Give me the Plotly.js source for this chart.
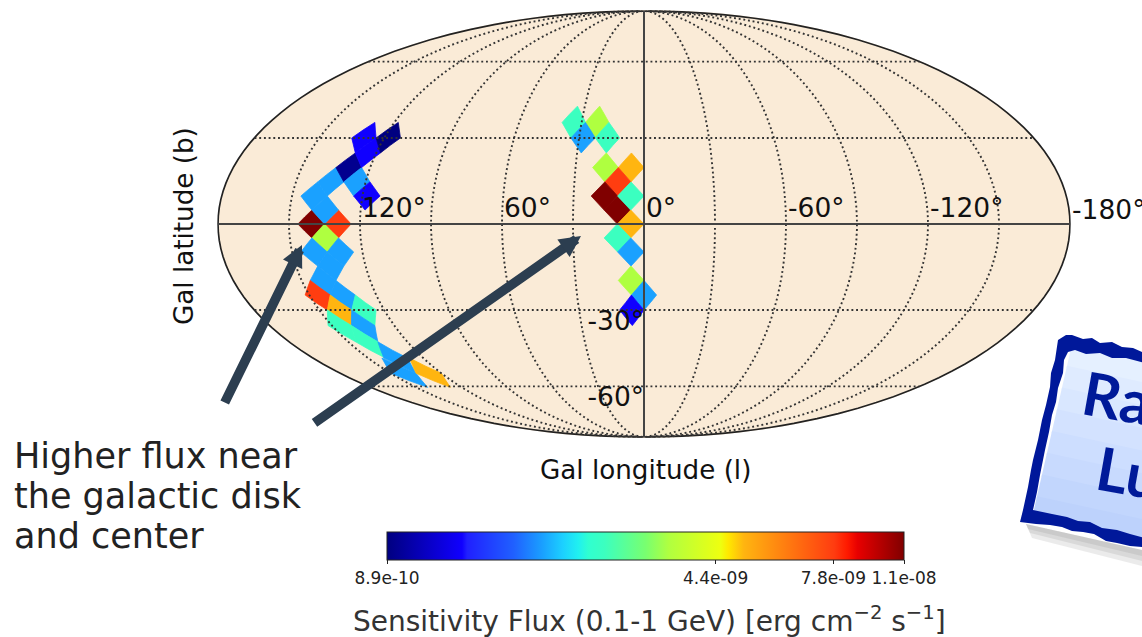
<!DOCTYPE html>
<html><head><meta charset="utf-8">
<script src="https://cdn.plot.ly/plotly-3.0.1.min.js"></script>
<style>html,body{margin:0;padding:0;background:#fff}#c{width:1142px;height:637px}</style></head>
<body><div id="c"></div>
<script>
// ---- data: HEALPix (nside 8) ring, galactic longitude, sensitivity flux ----
var cellRing=[9,9,10,10,12,12,13,14,15,14,16,17,18,20,21,22,
 16,16,17,18,18,19,20,21,21,22,22,23,23,24,25,26,26,14,15,13,12,13,14,11,10,10];
var cellLon=[33.75,22.5,28.125,16.875,16.875,5.625,11.25,16.875,11.25,5.625,5.625,11.25,5.625,5.625,0,5.625,
 140.625,129.375,135,140.625,129.375,135,140.625,135,146.25,140.625,129.375,135,146.25,140.625,135,142.5,127.5,
 140.625,135,135,129.375,123.75,118.125,123.75,129.375,118.125];
var cellFlux=[2.56e-9,3.5e-9,1.9e-9,2.56e-9,3.5e-9,5.05e-9,7.8e-9,1.1e-8,1.1e-8,2.56e-9,5.05e-9,2.56e-9,1.9e-9,3.5e-9,1.9e-9,1.28e-9,
 1.1e-8,7.8e-9,3.5e-9,1.9e-9,1.9e-9,1.9e-9,1.9e-9,1.9e-9,7.8e-9,5.05e-9,2.56e-9,1.9e-9,2.56e-9,2.56e-9,1.9e-9,1.9e-9,5.05e-9,
 1.9e-9,1.9e-9,1.9e-9,9.3e-10,1.9e-9,1.28e-9,1.28e-9,1.28e-9,8.9e-10];
var lonTickVals=[120,60,0,-60,-120];
var lonTickText=['120°','60°','0°','-60°','-120°'];
var latTickVals=[-30,-60];
var latTickText=['-30°','-60°'];
var graticuleLon=[-150,-120,-90,-60,-30,30,60,90,120,150];
var graticuleLat=[-60,-30,30,60];
var cbTickVals=[8.9e-10,4.4e-9,7.8e-9,1.1e-8];
var cbTickText=['8.9e-10','4.4e-09','7.8e-09','1.1e-08'];
var fluxMin=8.9e-10, fluxMax=1.1e-8;
var jet=[[0,'#000080'],[0.145,'#1000ff'],[0.155,'#2020ff'],[0.245,'#2060ff'],[0.30,'#1a9fff'],[0.34,'#1cd0ff'],[0.37,'#20f0f0'],[0.39,'#30ffd0'],[0.42,'#3bffc0'],[0.50,'#78ff70'],[0.545,'#b0ff40'],[0.645,'#eeff10'],[0.66,'#ffe800'],[0.69,'#ffb510'],[0.865,'#ff3c10'],[0.89,'#ff1a00'],[0.91,'#e80000'],[1,'#800000']];

// ---- helpers ----
var W=1142,H=637;
function px(x){return x/W;} function py(y){return 1-y/H;}
function ringZ(i){ if(i>24){var k=32-i;return -(1-k*k/192);} if(i<8){return 1-i*i/192;} return 4/3-i/12; }
function ringLat(i){return Math.asin(ringZ(i))*180/Math.PI;}
function halfLon(i){ return i>24?45/(32-i):5.625; }
function hex2(c){return [parseInt(c.substr(1,2),16),parseInt(c.substr(3,2),16),parseInt(c.substr(5,2),16)];}
function jetColor(v){
  var t=Math.max(0,Math.min(1,Math.log(v/fluxMin)/Math.log(fluxMax/fluxMin)));
  for(var i=1;i<jet.length;i++){ if(t<=jet[i][0]){
    var a=jet[i-1],b=jet[i],f=(t-a[0])/(b[0]-a[0]),p=hex2(a[1]),q=hex2(b[1]);
    return 'rgb('+[0,1,2].map(function(k){return Math.round(p[k]+(q[k]-p[k])*f);}).join(',')+')';
  }}
  return jet[jet.length-1][1];
}
function seq(a,b,s){var o=[];for(var v=a;v<b;v+=s)o.push(v);o.push(b);return o;}

var traces=[];
// cells (longitude increases to the left, so map l -> -l)
cellRing.forEach(function(r,i){
  var l=-cellLon[i],d=halfLon(r),c=ringLat(r);
  traces.push({type:'scattergeo',mode:'lines',hoverinfo:'skip',showlegend:false,
    lon:[l,l+d,l,l-d,l],lat:[ringLat(r-1),c,ringLat(r+1),c,ringLat(r-1)],
    fill:'toself',fillcolor:jetColor(cellFlux[i]),line:{width:0.8,color:jetColor(cellFlux[i])}});
});
// colour bar carrier
traces.push({type:'scattergeo',mode:'markers',hoverinfo:'skip',showlegend:false,
  lon:cellLon.map(function(v){return -v;}),lat:cellRing.map(ringLat),
  marker:{size:1,opacity:0,color:cellFlux.map(function(v){return Math.log10(v);}),
    cmin:Math.log10(fluxMin),cmax:Math.log10(fluxMax),colorscale:jet,showscale:true,
    colorbar:{orientation:'h',x:px(645.5),xanchor:'center',y:py(532),yanchor:'top',len:517/W,lenmode:'fraction',
      thickness:28,thicknessmode:'pixels',xpad:0,ypad:0,outlinecolor:'#222',outlinewidth:1,
      tickmode:'array',tickvals:cbTickVals.map(function(v){return Math.log10(v);}),ticktext:cbTickText,
      ticks:'outside',ticklen:4,tickcolor:'#222',tickwidth:1,tickfont:{family:'DejaVu Sans',size:17,color:'#222'}}}});
// graticule
graticuleLon.forEach(function(l){
  var la=seq(-89.9,89.9,4);
  traces.push({type:'scattergeo',mode:'lines',hoverinfo:'skip',showlegend:false,lon:la.map(function(){return l;}),lat:la,
    line:{color:'#333',width:1.9,dash:'1.9px,2.8px'}});
});
graticuleLat.forEach(function(b){
  var lo=seq(-179.9,179.9,4);
  traces.push({type:'scattergeo',mode:'lines',hoverinfo:'skip',showlegend:false,lon:lo,lat:lo.map(function(){return b;}),
    line:{color:'#333',width:1.9,dash:'1.9px,2.8px'}});
});
// solid equator and prime meridian
(function(){
  var la=seq(-89.9,89.9,4),lo=seq(-179.9,179.9,4);
  traces.push({type:'scattergeo',mode:'lines',hoverinfo:'skip',showlegend:false,lon:la.map(function(){return 0;}),lat:la,line:{color:'#444',width:2}});
  traces.push({type:'scattergeo',mode:'lines',hoverinfo:'skip',showlegend:false,lon:lo,lat:lo.map(function(){return 0;}),line:{color:'#444',width:2}});
})();
// tick labels
var labelNudge=0.85;
traces.push({type:'scattergeo',mode:'text',hoverinfo:'skip',showlegend:false,
  lon:lonTickVals.map(function(v){return -v+labelNudge;}),lat:lonTickVals.map(function(){return 0;}),text:lonTickText,textposition:'top right',
  textfont:{family:'DejaVu Sans',size:26.5,color:'#111'}});
traces.push({type:'scattergeo',mode:'text',hoverinfo:'skip',showlegend:false,
  lon:latTickVals.map(function(){return 0;}),lat:latTickVals,text:latTickText,textposition:'bottom left',
  textfont:{family:'DejaVu Sans',size:26.5,color:'#111'}});

// page shapes
function P(pts,fill,lc,lw){var d=pts.map(function(p,i){return (i?'L':'M')+px(p[0])+','+py(p[1]);}).join(' ')+' Z';
  return {type:'path',xref:'paper',yref:'paper',path:d,fillcolor:fill,line:{width:lw||0,color:lc||fill},layer:'above'};}
var shapes=[{type:'circle',xref:'paper',yref:'paper',layer:'below',x0:px(218),x1:px(1070),y0:py(438),y1:py(10),fillcolor:'#faebd7',line:{width:0}}];
// sticker
var stickerShadow=[[[1026,524],[1142,550],[1142,566],[1032,538]],[[1026,524],[1142,550],[1142,561],[1030,533]],[[1026,524],[1142,550],[1142,556],[1028,529]]];
stickerShadow.forEach(function(s){shapes.push(P(s,'rgba(110,110,110,0.14)'));});
var stickerTop=['#e5f0ff','#dfebff','#d9e7ff','#d3e2ff','#cddeff','#c8dafe','#c2d6fd','#bdd2fc'];
stickerTop.forEach(function(c,i){
  var a=i/8,b=(i+1.1)/8,tx=1072,ty=344,bx=1032,by=518;
  var x0=tx+(bx-tx)*a,y0=ty+(by-ty)*a,x1=tx+(bx-tx)*b,y1=ty+(by-ty)*b;
  shapes.push(P([[x0,y0],[x0+120,y0+26],[x1+120,y1+26],[x1,y1]],c));
});
var borderOuter=[[1058,340],[1066,335],[1072,335],[1083,339],[1092,338],[1100,343],[1112,342],[1122,347],[1133,348],[1142,352],[1145,352],
  [1145,549],[1142,547],[1130,546],[1117,543],[1106,541],[1094,534],[1083,532],[1072,531],[1062,527],[1050,525],[1036,524],[1020,522],
  [1023,510],[1028,487],[1031,470],[1033,460],[1038,440],[1042,420],[1046,405],[1050,387],[1051,373],[1055,360]];
var borderInner=[[1068,352],[1075,350],[1086,354],[1100,353],[1112,358],[1126,358],[1145,363],
  [1145,538],[1130,534],[1117,530],[1102,528],[1090,522],[1078,521],[1067,517],[1052,514],[1033,510],
  [1037,492],[1040,475],[1045,450],[1049,432],[1052,415],[1056,402],[1058,388],[1063,373],[1064,360]];
function sub(pts){return pts.map(function(p,i){return (i?'L':'M')+px(p[0])+','+py(p[1]);}).join(' ')+' Z';}
shapes.push({type:'path',xref:'paper',yref:'paper',layer:'above',path:sub(borderOuter)+' '+sub(borderInner),fillcolor:'#00189a',line:{width:0},fillrule:'evenodd'});

var T=function(x,y,text,size,color,extra){var a={xref:'paper',yref:'paper',x:px(x),y:py(y),text:text,showarrow:false,xanchor:'left',yanchor:'middle',align:'left',
  borderpad:0,font:{family:'DejaVu Sans',size:size,color:color}};for(var k in extra)a[k]=extra[k];return a;};
var annotations=[
  T(12.5,456,'Higher flux near',35,'#222'),T(12.5,496,'the galactic disk',35,'#222'),T(12.5,536,'and center',35,'#222'),
  T(645,470,'Gal longitude (l)',26.2,'#111',{xanchor:'center'}),
  T(184,226,'Gal latitude (b)',26.2,'#111',{xanchor:'center',textangle:-90}),
  T(1071,209,'-180°',26.5,'#111'),
  T(649.5,619,'Sensitivity Flux (0.1-1 GeV) [erg cm<sup>−2</sup> s<sup>−1</sup>]',28,'#333',{xanchor:'center'}),
  T(1076,397,'<b>Ra</b>',60,'#001a99',{textangle:10,font:{family:'Lato',size:60,color:'#001a99'}}),
  T(1090,472,'<b>Lu</b>',60,'#001a99',{textangle:10,font:{family:'Lato',size:60,color:'#001a99'}}),
  {xref:'paper',yref:'paper',x:px(302),y:py(245),ax:224-302,ay:404-245,axref:'pixel',ayref:'pixel',showarrow:true,text:'',arrowhead:2,arrowsize:0.45,arrowwidth:9.5,arrowcolor:'#2c3e50',standoff:0,startstandoff:0},
  {xref:'paper',yref:'paper',x:px(581),y:py(236),ax:313-581,ay:424-236,axref:'pixel',ayref:'pixel',showarrow:true,text:'',arrowhead:2,arrowsize:0.45,arrowwidth:9.5,arrowcolor:'#2c3e50',standoff:0,startstandoff:0}
];
var layout={width:W,height:H,margin:{l:0,r:0,t:0,b:0},paper_bgcolor:'#fff',showlegend:false,
  geo:{domain:{x:[px(218),px(1070)],y:[py(438),py(10)]},projection:{type:'mollweide'},bgcolor:'rgba(0,0,0,0)',
    showland:false,showocean:false,showlakes:false,showrivers:false,showcountries:false,showcoastlines:false,showsubunits:false,
    showframe:true,framecolor:'#222',framewidth:1.7,lonaxis:{showgrid:false},lataxis:{showgrid:false}},
  shapes:shapes,annotations:annotations};
Plotly.newPlot('c',traces,layout,{displayModeBar:false,staticPlot:true});
</script></body></html>
